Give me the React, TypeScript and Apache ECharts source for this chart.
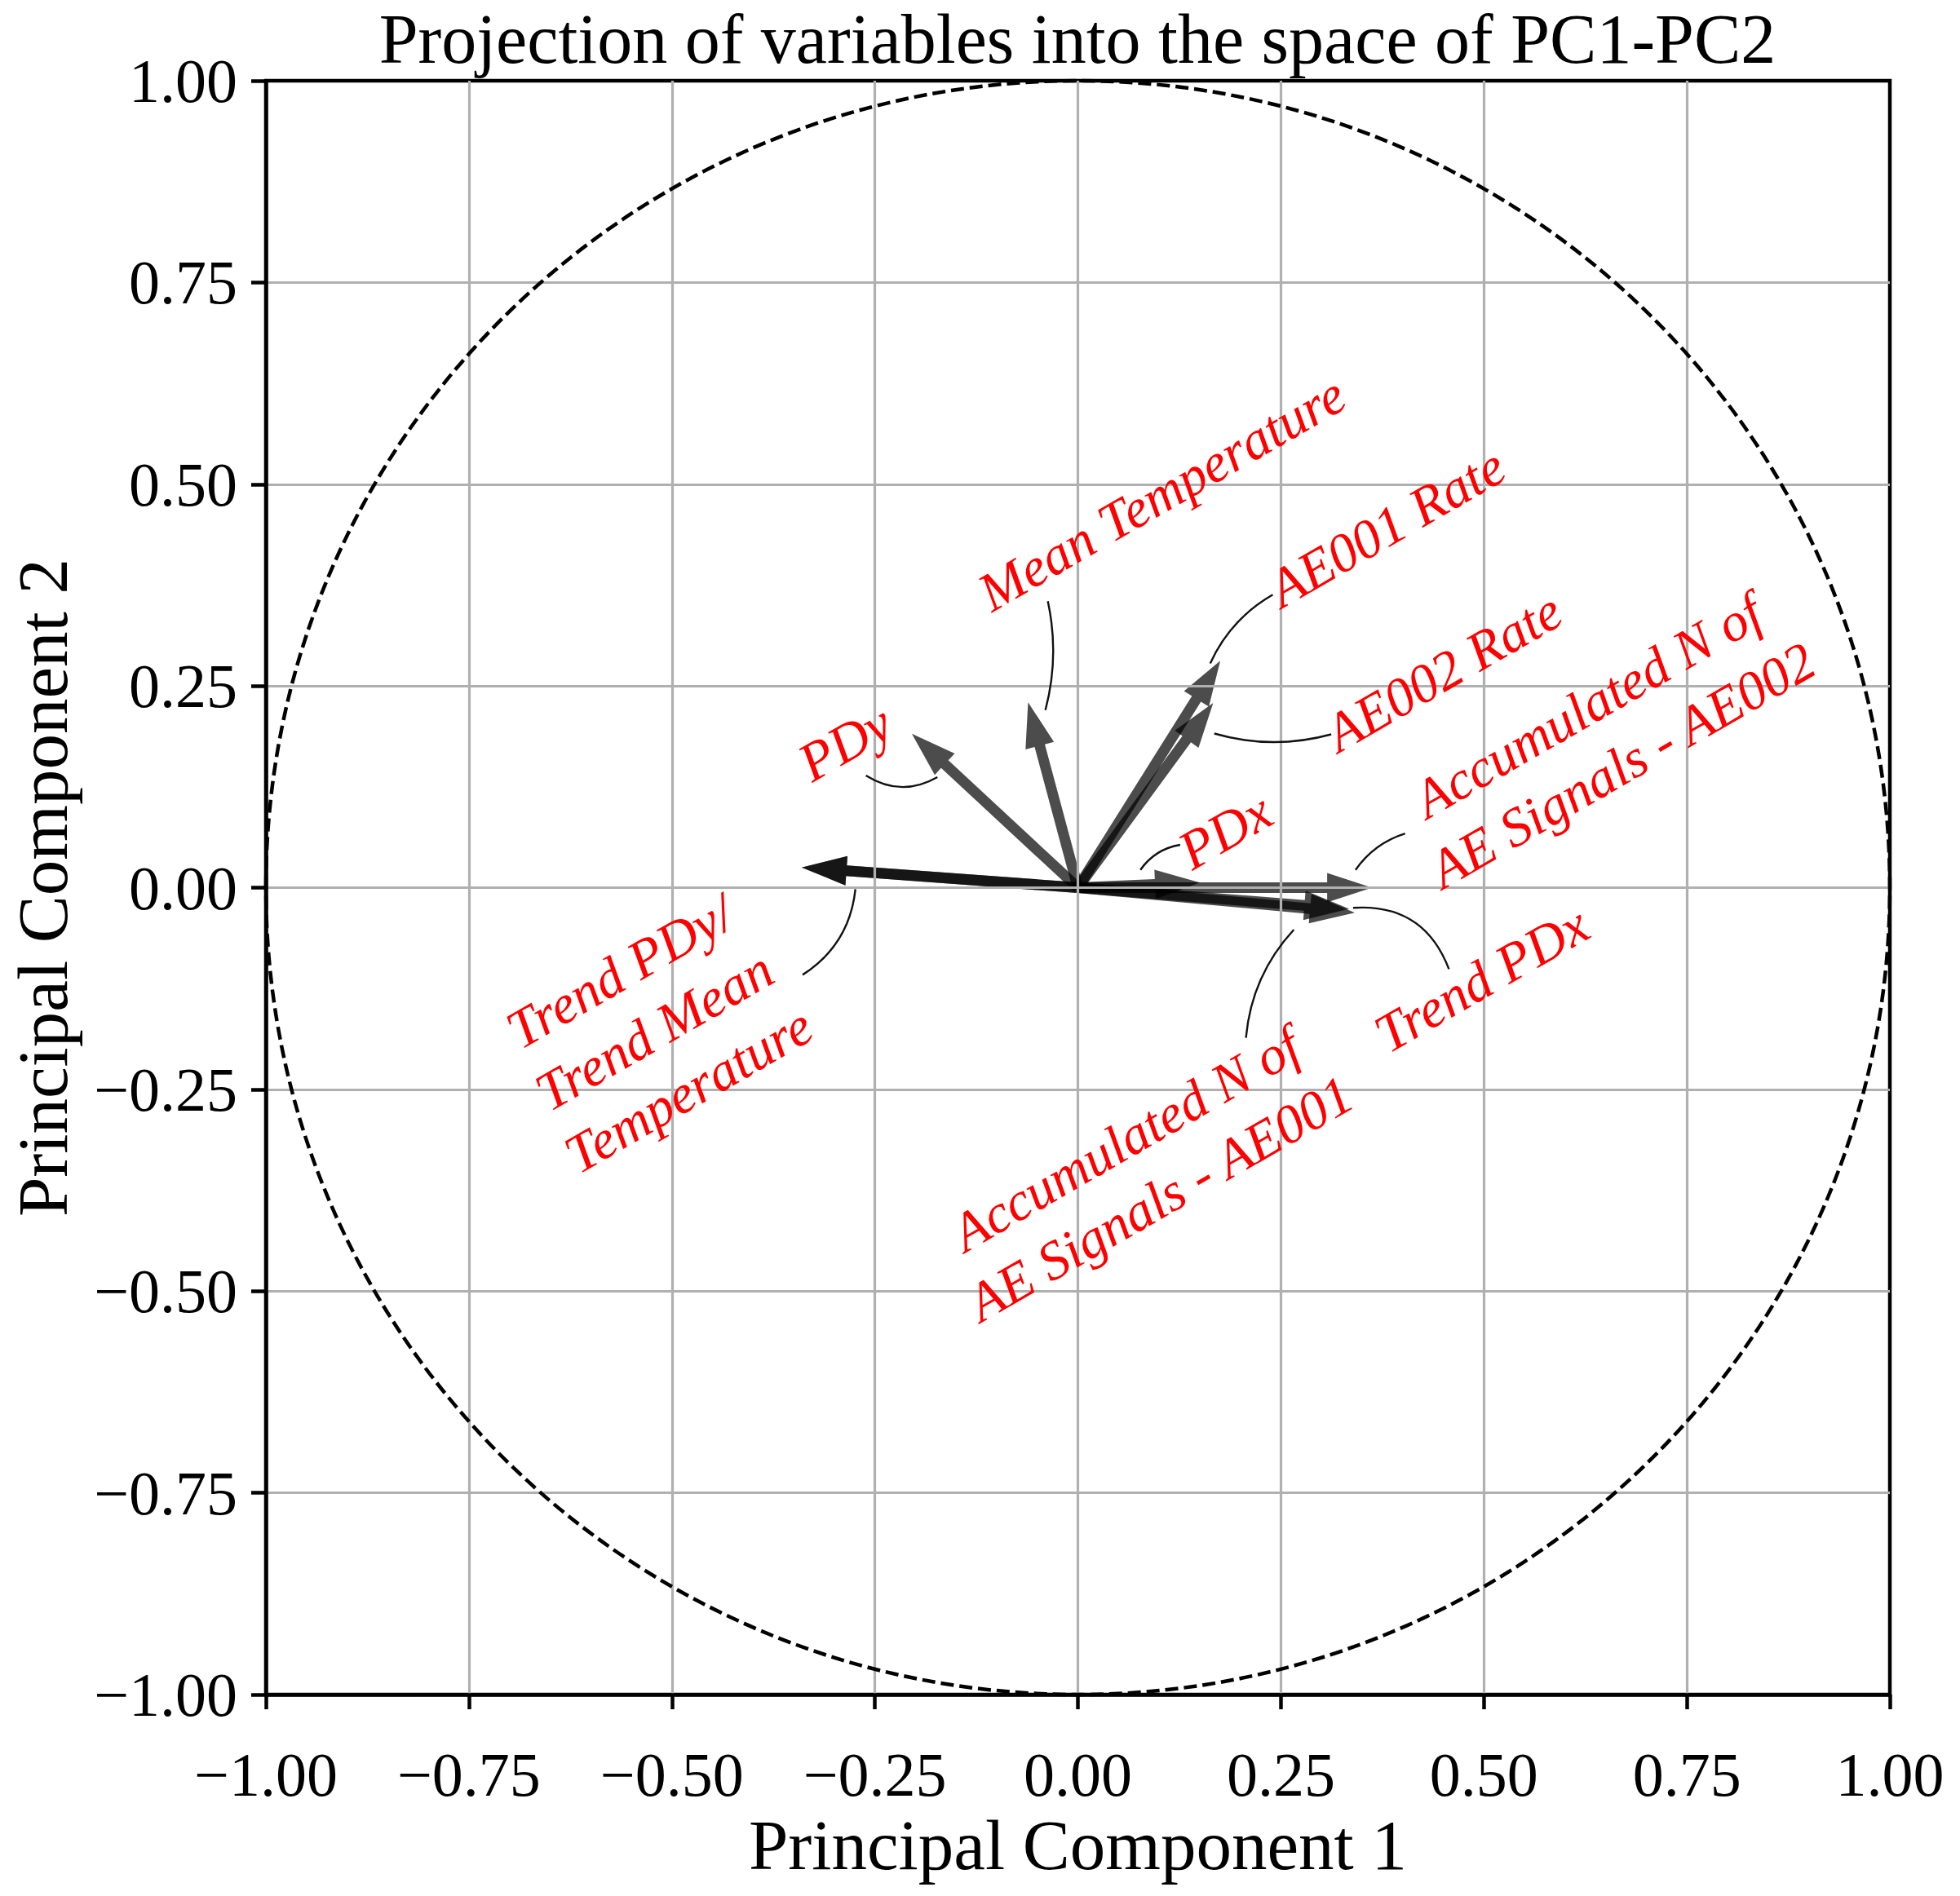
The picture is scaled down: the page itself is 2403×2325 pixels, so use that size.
import React, { useEffect, useRef } from 'react';
import * as echarts from 'echarts';

const FONT = "'Liberation Serif', 'Times New Roman', serif";

// Loadings of each variable on PC1 / PC2 (end of the arrow shaft; the head extends beyond it)
const variableNames = [
  'Trend PDy',
  'Trend Mean Temperature',
  'PDy',
  'Mean Temperature',
  'AE001 Rate',
  'AE002 Rate',
  'PDx',
  'Accumulated N of AE Signals - AE002',
  'Trend PDx',
  'Accumulated N of AE Signals - AE001',
];
const pc1Loadings = [-0.285, -0.285, -0.164, -0.047, 0.146, 0.134, 0.095, 0.307, 0.286, 0.279];
const pc2Loadings = [0.021, 0.021, 0.153, 0.176, 0.234, 0.184, 0.004, 0.0, -0.026, -0.022];

// Red annotation texts, their centres, and the curved leader lines towards the arrows
const labelTexts = [
  'Trend PDy/\nTrend Mean\nTemperature',
  'PDy',
  'Mean Temperature',
  'AE001 Rate',
  'AE002 Rate',
  'PDx',
  'Accumulated N of\nAE Signals - AE002',
  'Trend PDx',
  'Accumulated N of\nAE Signals - AE001',
];
const labelX = [-0.522, -0.287, 0.103, 0.38, 0.45, 0.181, 0.649, 0.497, 0.08];
const labelY = [-0.177, 0.18, 0.489, 0.447, 0.268, 0.071, 0.189, -0.113, -0.348];
const leaderFromX = [-0.339, -0.261, -0.037, 0.24, 0.312, 0.126, 0.403, 0.457, 0.207];
const leaderFromY = [-0.108, 0.139, 0.355, 0.363, 0.19, 0.053, 0.067, -0.101, -0.186];
const leaderToX = [-0.274, -0.173, -0.04, 0.163, 0.168, 0.077, 0.342, 0.339, 0.266];
const leaderToY = [-0.002, 0.137, 0.22, 0.278, 0.191, 0.022, 0.022, -0.025, -0.052];
const leaderRad = [0.24, 0.3, -0.12, 0.16, -0.14, 0.21, 0.17, 0.37, -0.17];

const axisTicks = [-1, -0.75, -0.5, -0.25, 0, 0.25, 0.5, 0.75, 1];

const SHAFT_W = 13;
const HEAD_W = 36;
const HEAD_L = 55;

const fmt = (v: number) => (v < 0 ? '\u2212' : '') + Math.abs(v).toFixed(2);

function renderArrow(_params: any, api: any) {
  const o = api.coord([0, 0]);
  const b = api.coord([api.value(0), api.value(1)]);
  const dx = b[0] - o[0];
  const dy = b[1] - o[1];
  const len = Math.hypot(dx, dy) || 1;
  const ux = dx / len;
  const uy = dy / len;
  const nx = -uy;
  const ny = ux;
  const hs = SHAFT_W / 2;
  const hh = HEAD_W / 2;
  const tip = [b[0] + ux * HEAD_L, b[1] + uy * HEAD_L];
  const points = [
    [o[0] + nx * hs, o[1] + ny * hs],
    [b[0] + nx * hs, b[1] + ny * hs],
    [b[0] + nx * hh, b[1] + ny * hh],
    tip,
    [b[0] - nx * hh, b[1] - ny * hh],
    [b[0] - nx * hs, b[1] - ny * hs],
    [o[0] - nx * hs, o[1] - ny * hs],
  ];
  return {
    type: 'polygon',
    shape: { points },
    style: { fill: 'rgba(0,0,0,0.7)', stroke: 'none' },
  };
}

function renderLabel(params: any, api: any) {
  const i = params.dataIndex;
  const p = api.coord([api.value(0), api.value(1)]);
  const a = api.coord([api.value(2), api.value(3)]);
  const c = api.coord([api.value(4), api.value(5)]);
  const rad = api.value(6);
  const dx = c[0] - a[0];
  const dy = c[1] - a[1];
  const cpx = (a[0] + c[0]) / 2 - rad * dy;
  const cpy = (a[1] + c[1]) / 2 + rad * dx;
  return {
    type: 'group',
    children: [
      {
        type: 'bezierCurve',
        shape: { x1: a[0], y1: a[1], x2: c[0], y2: c[1], cpx1: cpx, cpy1: cpy },
        style: { fill: 'none', stroke: '#111', lineWidth: 2.4 },
      },
      {
        type: 'text',
        x: p[0],
        y: p[1],
        rotation: Math.PI / 6,
        style: {
          text: labelTexts[i],
          fill: '#ff0000',
          fontFamily: FONT,
          fontStyle: 'italic',
          fontSize: 67,
          lineHeight: 84,
          align: 'center',
          verticalAlign: 'middle',
        },
      },
    ],
  };
}

function renderUnitCircle(_params: any, api: any) {
  const c = api.coord([api.value(0), api.value(1)]);
  const ex = api.coord([api.value(0) + api.value(2), api.value(1)]);
  const ey = api.coord([api.value(0), api.value(1) + api.value(2)]);
  return {
    type: 'ellipse',
    shape: { cx: c[0], cy: c[1], rx: Math.abs(ex[0] - c[0]), ry: Math.abs(c[1] - ey[1]) },
    style: { fill: 'none', stroke: '#000', lineWidth: 4.5, lineDash: [16, 7] },
  };
}

export default function App() {
  const ref = useRef<HTMLDivElement>(null);

  useEffect(() => {
    if (!ref.current) return;
    const chart = echarts.init(ref.current, undefined, { renderer: 'svg' });

    const axisCommon = {
      type: 'value',
      min: axisTicks[0],
      max: axisTicks[axisTicks.length - 1],
      interval: 0.25,
      z: 2,
      nameLocation: 'middle',
      nameTextStyle: { fontFamily: FONT, fontSize: 87, color: '#000' },
      axisLine: { show: true, onZero: false, lineStyle: { color: '#000', width: 4.5 } },
      axisTick: { show: true, inside: false, length: 18, lineStyle: { color: '#000', width: 4.5 } },
      axisLabel: { fontFamily: FONT, fontSize: 76, color: '#000', formatter: fmt },
      splitLine: {
        show: true,
        showMinLine: false,
        showMaxLine: false,
        lineStyle: { color: '#b0b0b0', width: 3.2 },
      },
    };

    chart.setOption({
      animation: false,
      backgroundColor: '#ffffff',
      graphic: [
        {
          type: 'text',
          x: 1321,
          y: 5,
          style: {
            text: 'Projection of variables into the space of PC1-PC2',
            fill: '#000',
            fontFamily: FONT,
            fontSize: 86,
            align: 'center',
            verticalAlign: 'top',
            textAlign: 'center',
            textVerticalAlign: 'top',
          },
        },
      ],
      grid: {
        left: 326,
        top: 99,
        width: 1991,
        height: 1979,
        show: true,
        borderColor: '#000',
        borderWidth: 4.5,
        backgroundColor: 'transparent',
      },
      xAxis: {
        ...axisCommon,
        name: 'Principal Component 1',
        nameGap: 138,
        axisLabel: { ...axisCommon.axisLabel, margin: 60 },
      },
      yAxis: {
        ...axisCommon,
        name: 'Principal Component 2',
        nameGap: 230,
        axisLabel: { ...axisCommon.axisLabel, margin: 35 },
      },
      series: [
        {
          type: 'custom',
          name: 'loadings',
          z: 1,
          renderItem: renderArrow,
          data: variableNames.map((n, i) => ({ name: n, value: [pc1Loadings[i], pc2Loadings[i]] })),
        },
        {
          type: 'custom',
          name: 'unit circle',
          z: 3,
          renderItem: renderUnitCircle,
          data: [[0, 0, 1]],
        },
        {
          type: 'custom',
          name: 'labels',
          z: 4,
          renderItem: renderLabel,
          data: labelTexts.map((_, i) => [
            labelX[i],
            labelY[i],
            leaderFromX[i],
            leaderFromY[i],
            leaderToX[i],
            leaderToY[i],
            leaderRad[i],
          ]),
        },
      ],
    });

    return () => chart.dispose();
  }, []);

  return (
    <div
      ref={ref}
      style={{ position: 'absolute', left: 0, top: 0, width: 2403, height: 2325, background: '#fff' }}
    />
  );
}
